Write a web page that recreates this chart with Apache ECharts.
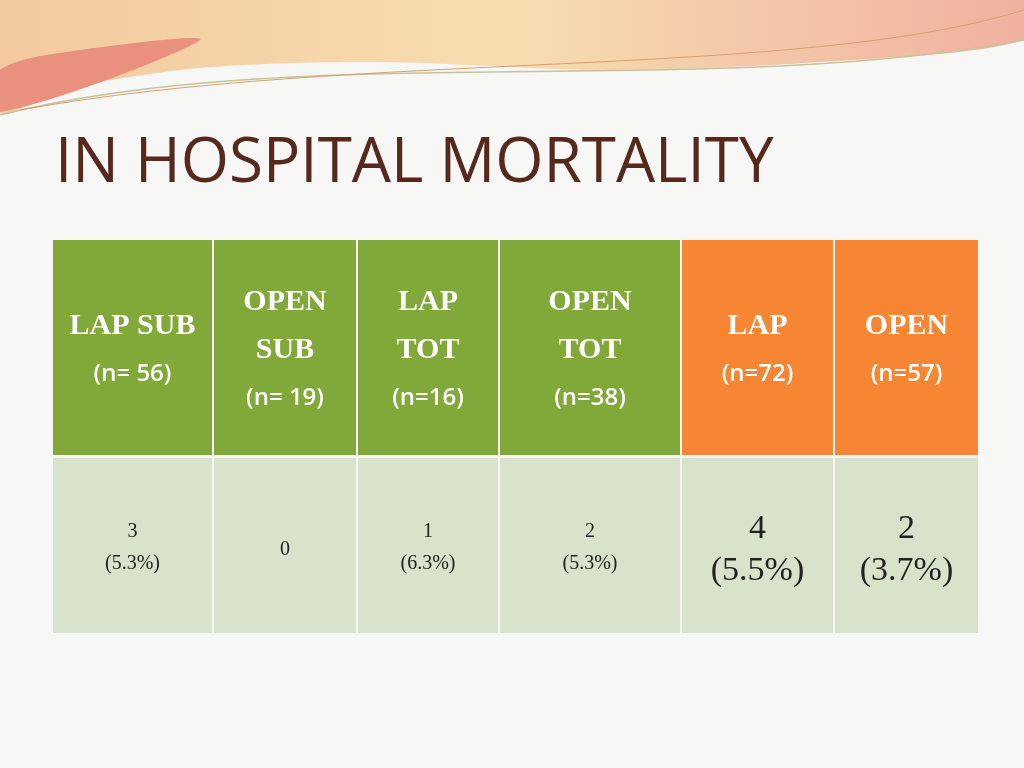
<!DOCTYPE html>
<html>
<head>
<meta charset="utf-8">
<script src="https://cdn.jsdelivr.net/npm/echarts@6/dist/echarts.min.js"></script>
<style>html,body{margin:0;padding:0;background:#f7f7f5}#main{width:1024px;height:768px}</style>
</head>
<body>
<div id="main"></div>
<script>
// table layout data
var colEdges = [52, 213, 357, 499, 681, 834, 979];
var rowEdges = [240, 455, 633];
var headTop = ['LAP SUB', 'OPEN\nSUB', 'LAP\nTOT', 'OPEN\nTOT', 'LAP', 'OPEN'];
var headN = ['(n= 56)', '(n= 19)', '(n=16)', '(n=38)', '(n=72)', '(n=57)'];
var headColors = ['#80a93a', '#80a93a', '#80a93a', '#80a93a', '#f68634', '#f68634'];
var deaths = ['3', '0', '1', '2', '4', '2'];
var pct = ['(5.3%)', '', '(6.3%)', '(5.3%)', '(5.5%)', '(3.7%)'];
var bigText = [false, false, false, false, true, true];

var cells = [];
for (var i = 0; i < 6; i++) {
  cells.push([colEdges[i], colEdges[i + 1], rowEdges[0], rowEdges[1], 0, i]);
  cells.push([colEdges[i], colEdges[i + 1], rowEdges[1], rowEdges[2], 1, i]);
}

var myChart = echarts.init(document.getElementById('main'));

function renderCell(params, api) {
  var p0 = api.coord([api.value(0), api.value(2)]);
  var p1 = api.coord([api.value(1), api.value(3)]);
  var row = api.value(4), c = api.value(5);
  var x = p0[0] + 1, y = p0[1] + (row ? 3 : 0), w = p1[0] - p0[0] - 2, h = p1[1] - y;
  var cx = x + w / 2, cy = y + h / 2;
  var kids = [{ type: 'rect', shape: { x: x, y: y, width: w, height: h },
    style: { fill: row ? '#d9e2cb' : headColors[c] } }];
  if (row === 0) {
    var parts = headTop[c].split('\n');
    var total = parts.length + 1;
    for (var k = 0; k < parts.length; k++) {
      kids.push({ type: 'text', style: { text: parts[k], x: cx, y: cy + 3 + (k - (total - 1) / 2) * 48,
        align: 'center', verticalAlign: 'middle', fill: '#fff', font: '600 30px "Liberation Serif"' } });
    }
    kids.push({ type: 'text', style: { text: headN[c], x: cx, y: cy + 3 + (parts.length - (total - 1) / 2) * 48,
      align: 'center', verticalAlign: 'middle', fill: '#fff', font: '600 24px "Open Sans"' } });
  } else {
    var big = bigText[c];
    var fs = big ? 34 : 20;
    if (pct[c]) {
      kids.push({ type: 'text', style: { text: deaths[c], x: cx, y: cy - (big ? 16 : 14), align: 'center', verticalAlign: 'middle',
        fill: '#222', font: fs + 'px "Liberation Serif"' } });
      kids.push({ type: 'text', style: { text: pct[c], x: cx, y: cy + (big ? 26 : 18), align: 'center', verticalAlign: 'middle',
        fill: '#222', font: fs + 'px "Liberation Serif"' } });
    } else {
      kids.push({ type: 'text', style: { text: deaths[c], x: cx, y: cy + 4, align: 'center', verticalAlign: 'middle',
        fill: '#222', font: fs + 'px "Liberation Serif"' } });
    }
  }
  return { type: 'group', children: kids };
}

var option = {
  backgroundColor: '#f7f7f5',
  animation: false,
  title: {
    text: 'IN HOSPITAL MORTALITY', left: 50, top: 128,
    textStyle: { color: '#56291c', fontSize: 62, fontWeight: 'normal', fontFamily: 'Open Sans' }
  },
  graphic: [
    { type: 'polygon', shape: { points: [[0, 0], [1024, 0], [1024, 40], [820, 62], [600, 70], [380, 62], [200, 68], [60, 90], [0, 112]], smooth: 0.3 },
      style: { fill: new echarts.graphic.LinearGradient(0, 0, 1, 0, [{ offset: 0, color: '#f3c8a0' }, { offset: 0.5, color: '#f7ddb0' }, { offset: 1, color: '#f0b0a0' }]) } },
    { type: 'polygon', shape: { points: [[0, 70], [80, 50], [200, 40], [0, 112]], smooth: 0.3 }, style: { fill: '#e9907e' } },
    { type: 'bezierCurve', shape: { x1: 0, y1: 115, x2: 1024, y2: 40, cpx1: 300, cpy1: 40, cpx2: 700, cpy2: 100 },
      style: { stroke: '#c9c39a', lineWidth: 1.5, fill: null } },
    { type: 'bezierCurve', shape: { x1: 20, y1: 110, x2: 1024, y2: 10, cpx1: 350, cpy1: 50, cpx2: 800, cpy2: 80 },
      style: { stroke: '#d8a070', lineWidth: 1, fill: null } }
  ],
  grid: { left: 52, right: 45, top: 240, bottom: 135 },
  xAxis: { type: 'value', min: 52, max: 979, show: false },
  yAxis: { type: 'value', min: 240, max: 633, inverse: true, show: false },
  series: [{ type: 'custom', renderItem: renderCell, data: cells, silent: true }]
};
myChart.setOption(option);
</script>
</body>
</html>
